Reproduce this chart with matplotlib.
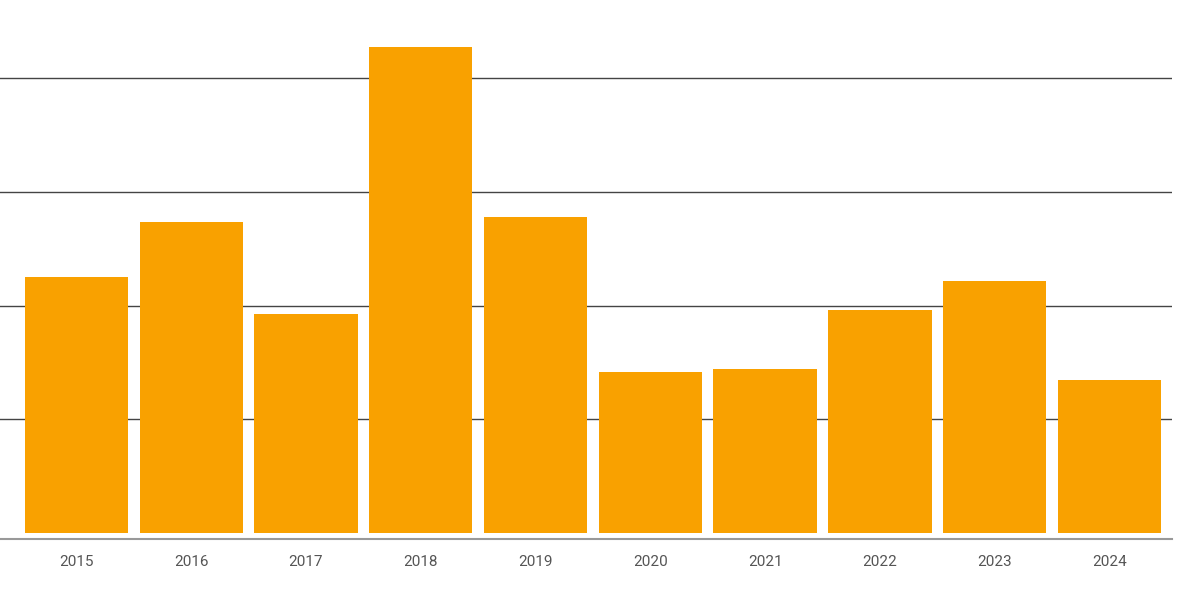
import matplotlib.pyplot as plt
import numpy as np

years = ["2015", "2016", "2017", "2018", "2019", "2020", "2021", "2022", "2023", "2024"]
values = [2.25, 2.74, 1.93, 4.28, 2.78, 1.42, 1.44, 1.96, 2.22, 1.35]

plt.rcParams["font.family"] = ["Roboto", "DejaVu Sans"]

fig = plt.figure(figsize=(12, 5.93), dpi=100)
ax = fig.add_axes([0, 1 - 539 / 593, 1172 / 1200, 539 / 593])
x = np.arange(len(years))
ax.bar(x, values, width=0.9, color="#F9A100", zorder=2)
ax.set_ylim(-0.053, 4.69)
ax.set_xlim(-0.666, 9.545)
ax.set_yticks([1, 2, 3, 4])
ax.yaxis.grid(True, color="#444444", linewidth=1, zorder=1)
ax.tick_params(left=False, labelleft=False, bottom=False, labelsize=11, labelcolor="#555555", pad=8)
ax.set_xticks(x, years)
for s in ["top", "right", "left"]:
    ax.spines[s].set_visible(False)
ax.spines["bottom"].set_color("#999999")
ax.spines["bottom"].set_linewidth(1.5)
fig.savefig("out.png", dpi=100)
